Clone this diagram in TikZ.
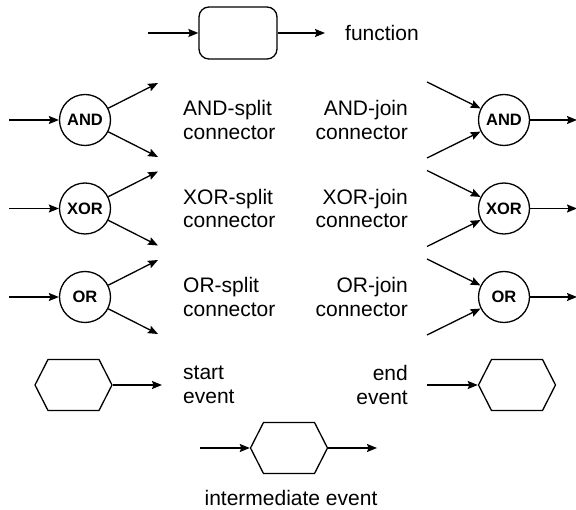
\documentclass[tikz,border=0pt]{standalone}
\usepackage{fontspec}
\setmainfont{Liberation Sans}
\usetikzlibrary{arrows.meta,shapes.symbols}

\tikzset{
  flow/.style={draw, line width=1.3pt, -{Stealth[length=10pt,width=8pt,inset=1.5pt]}},
  funcbox/.style={draw, line width=1.3pt, rounded corners=10pt, minimum width=78pt, minimum height=52pt},
  conn/.style={draw, circle, line width=1.3pt, minimum size=51pt, inner sep=0pt,
    font=\fontsize{16.5}{18}\selectfont\bfseries},
  eventbox/.style={draw, signal, signal to=east and west, signal pointer angle=126,
    line width=1.3pt, minimum width=77pt, minimum height=51pt, inner sep=0pt},
  lbl/.style={font=\fontsize{21}{23.5}\selectfont, inner sep=0pt},
}

\begin{document}
\begin{tikzpicture}[x=1pt, y=-1pt]
\useasboundingbox (0,0) rectangle (576,510);

% function
\node[funcbox] (fn) at (238,33) {};
\coordinate (fnin) at (148,33);
\coordinate (fnout) at (325,33);
\draw[flow] (fnin) -- (fn);
\draw[flow] (fn) -- (fnout);
\node[lbl, anchor=west] (fnlbl) at (345,33) {function};

% split connectors
\foreach \nm/\yy/\tx in {and/120/AND, xor/208.5/XOR, or/297/OR}{
  \node[conn] (s\nm) at (85,\yy) {\tx};
  \coordinate (s\nm in) at (9,\yy);
  \coordinate (s\nm up) at (158,\yy-37);
  \coordinate (s\nm dn) at (158,\yy+37);
  \draw[flow] (s\nm in) -- (s\nm);
  \draw[flow] (s\nm) -- (s\nm up);
  \draw[flow] (s\nm) -- (s\nm dn);
  \node[lbl, anchor=west, align=left] (s\nm lbl) at (183,\yy) {\tx-split\\connector};
}

% join connectors
\foreach \nm/\yy/\tx in {and/120/AND, xor/208.5/XOR, or/297/OR}{
  \node[conn] (j\nm) at (504,\yy) {\tx};
  \coordinate (j\nm up) at (427,\yy-38);
  \coordinate (j\nm dn) at (427,\yy+38);
  \coordinate (j\nm out) at (577,\yy);
  \draw[flow] (j\nm up) -- (j\nm);
  \draw[flow] (j\nm dn) -- (j\nm);
  \draw[flow] (j\nm) -- (j\nm out);
  \node[lbl, anchor=east, align=right] (j\nm lbl) at (408,\yy) {\tx-join\\connector};
}

% start event
\node[eventbox] (start) at (73.5,385) {};
\coordinate (startout) at (162,385);
\draw[flow] (start) -- (startout);
\node[lbl, anchor=west, align=left] (startlbl) at (183,385) {start\\event};

% end event
\node[eventbox] (end) at (517,385) {};
\coordinate (endin) at (427,385);
\draw[flow] (endin) -- (end);
\node[lbl, anchor=east, align=right] (endlbl) at (408,385) {end\\event};

% intermediate event
\node[eventbox] (mid) at (289,448) {};
\coordinate (midin) at (200,448);
\coordinate (midout) at (377,448);
\draw[flow] (midin) -- (mid);
\draw[flow] (mid) -- (midout);
\node[lbl] (midlbl) at (291,498) {intermediate event};

\end{tikzpicture}
\end{document}
